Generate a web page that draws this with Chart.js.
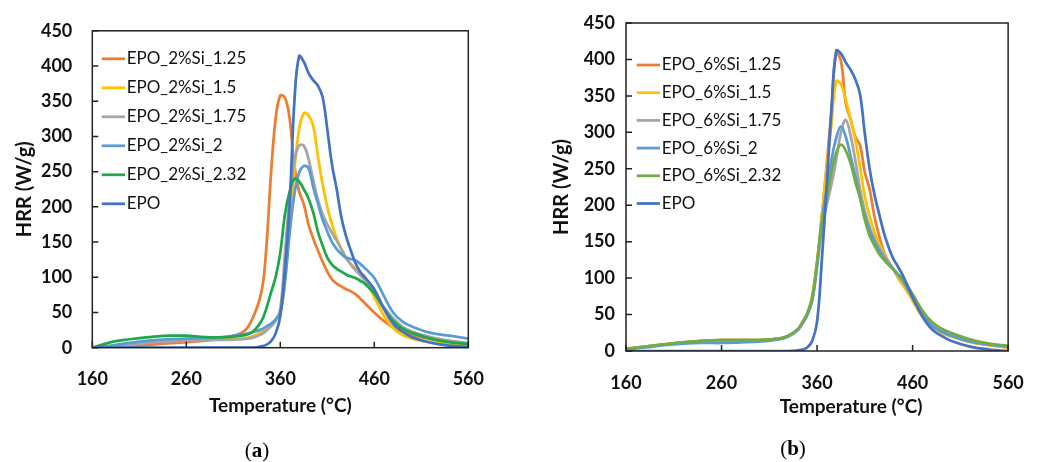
<!DOCTYPE html>
<html><head><meta charset="utf-8">
<script src="https://cdn.jsdelivr.net/npm/chart.js@4"></script>
<style>
html,body{margin:0;padding:0;background:#fff;width:1045px;height:462px;overflow:hidden;}
canvas{position:absolute;top:0;}
.cap{position:absolute;font-family:"Liberation Serif","DejaVu Serif",serif;font-size:21px;color:#000;transform:translate(-50%,-50%);white-space:nowrap;}
</style></head><body>
<canvas id="ca" width="522" height="462" style="left:0"></canvas>
<canvas id="cb" width="523" height="462" style="left:522px"></canvas>
<div class="cap" style="left:257px;top:450px">(<b>a</b>)</div>
<div class="cap" style="left:793px;top:448px">(<b>b</b>)</div>
<script>
// Temperature grid (°C)
const temps = [160,180,200,220,240,260,280,300,320,330,340,345,350,355,360,365,370,375,380,385,390,395,400,405,410,415,420,425,430,435,440,445,450,460,470,480,490,500,520,540,560];

// Panel (a): EPO_2%Si series, HRR (W/g)
const labelsA = ["EPO_2%Si_1.25","EPO_2%Si_1.5","EPO_2%Si_1.75","EPO_2%Si_2","EPO_2%Si_2.32","EPO"];
const a125 = [0,1,2,4,6,8,10,14,22,40,80,140,245,325,358,355,325,258,222,204,175,155,138,122,108,97,91,87,83,80,76,70,63,50,38,29,23,18,12,8,4];
const a150 = [0,2,5,8,10,11,12,12,13,16,22,27,32,40,50,95,180,252,310,333,330,315,272,232,200,175,155,140,128,119,112,103,95,72,46,28,18,13,8,5,3];
const a175 = [0,2,4,7,9,10,11,11,12,14,19,24,30,38,55,135,215,265,287,287,268,238,210,190,175,163,152,140,127,118,110,103,96,78,58,42,30,23,15,10,7];
const a200 = [0,3,7,10,12,13,14,15,19,22,26,30,34,40,50,94,163,218,248,258,255,228,205,182,165,150,140,133,128,126,124,119,113,99,74,50,37,30,21,17,13];
const a232 = [0,8,12,15,17,17,15,15,17,22,38,55,78,100,135,190,222,240,236,225,212,192,165,145,128,118,112,108,104,101,99,95,91,77,56,38,27,21,13,8,5];
const aEPO = [0,0,0,0,0,0,0,0,0,0,2,4,9,20,45,112,205,350,414,406,390,380,372,356,310,260,225,185,158,138,120,108,100,83,56,34,23,15,7,3,1];

// Panel (b): EPO_6%Si series, HRR (W/g)
const labelsB = ["EPO_6%Si_1.25","EPO_6%Si_1.5","EPO_6%Si_1.75","EPO_6%Si_2","EPO_6%Si_2.32","EPO"];
const b125 = [3,6,9,12,14,15,15,15,17,21,30,40,52,75,122,185,255,330,408,398,340,318,294,282,245,222,185,158,136,122,112,100,91,70,48,35,27,21,13,8,5];
const b150 = [3,6,9,12,14,15,15,15,17,21,30,40,52,75,122,185,252,310,370,366,345,318,290,252,212,185,163,147,134,122,111,101,91,69,47,33,25,20,12,8,5];
const b175 = [3,6,9,12,14,15,15,15,17,21,30,39,50,70,115,165,200,228,262,300,317,296,262,222,192,170,154,142,131,121,112,104,96,74,50,36,27,21,13,9,6];
const b200 = [3,5,8,10,11,11,12,13,16,20,29,38,50,70,118,178,222,262,292,308,294,268,240,210,185,165,150,138,128,120,112,104,96,73,50,35,27,21,13,9,6];
const b232 = [2,6,9,12,14,15,15,15,17,21,30,40,52,74,122,175,210,245,272,283,275,258,232,210,180,158,145,133,125,118,112,105,99,78,56,40,31,25,16,10,7];
const bEPO = [0,0,0,0,0,0,0,0,0,0,1,2,5,14,40,125,225,330,412,408,396,386,373,352,298,250,215,188,162,142,126,115,103,74,48,30,21,14,6,2,0];

// Axis tick values / titles
const xTicks = [160,260,360,460,560];
const yTicks = [0,50,100,150,200,250,300,350,400,450];
const xTitle = "Temperature (°C)";
const yTitle = "HRR (W/g)";

const colorsA = ["#ED7D31","#FFC000","#A5A5A5","#5B9BD5","#1FA84A","#4472C4"];
const colorsB = ["#ED7D31","#FFC000","#A5A5A5","#5B9BD5","#70AD47","#4472C4"];

const framePlugin = {
  id: 'frame',
  afterDraw(chart, args, o) {
    const {ctx, chartArea: ca, scales} = chart;
    ctx.save();
    ctx.strokeStyle = '#222';
    ctx.lineWidth = 1.5;
    ctx.strokeRect(ca.left, ca.top, ca.right - ca.left, ca.bottom - ca.top);
    ctx.beginPath();
    yTicks.forEach(v => { const y = scales.y.getPixelForValue(v); ctx.moveTo(ca.left, y); ctx.lineTo(ca.left + 6, y); });
    xTicks.forEach(v => { const x = scales.x.getPixelForValue(v); ctx.moveTo(x, ca.bottom); ctx.lineTo(x, ca.bottom - 6); });
    ctx.stroke();
    // legend
    const L = o.legend;
    ctx.font = '17px Lato';
    ctx.textBaseline = 'middle';
    ctx.textAlign = 'left';
    chart.data.datasets.forEach((ds, i) => {
      const y = ca.top + L.y0 + i * L.dy;
      ctx.strokeStyle = ds.borderColor;
      ctx.lineWidth = 2.75;
      ctx.beginPath(); ctx.moveTo(ca.left + L.x0, y); ctx.lineTo(ca.left + L.x1, y); ctx.stroke();
      ctx.fillStyle = '#111';
      ctx.fillText(ds.label, ca.left + L.tx, y);
    });
    // x title
    ctx.font = 'bold 19px Lato';
    ctx.textAlign = 'center';
    ctx.fillStyle = '#111';
    ctx.fillText(xTitle, (ca.left + ca.right) / 2 + o.xTitleDx, o.xTitleY);
    ctx.restore();
  }
};

function makeChart(id, labels, series, colors, cfg) {
  const datasets = series.map((vals, i) => ({
    label: labels[i],
    data: temps.map((t, k) => ({x: t, y: vals[k]})),
    borderColor: colors[i],
    backgroundColor: colors[i],
    borderWidth: 2.75,
    pointRadius: 0,
    fill: false,
    tension: 0.4,
    order: series.length - 1 - i
  }));
  return new Chart(document.getElementById(id), {
    type: 'line',
    data: {datasets},
    plugins: [framePlugin],
    options: {
      responsive: false,
      animation: false,
      events: [],
      layout: {padding: {left: 0, top: cfg.top, right: cfg.right, bottom: cfg.bottom}},
      plugins: {
        legend: {display: false},
        tooltip: {enabled: false},
        frame: {legend: cfg.legend, xTitleDx: cfg.xTitleDx, xTitleY: cfg.xTitleY}
      },
      scales: {
        x: {
          type: 'linear', min: 160, max: 560,
          afterBuildTicks: s => { s.ticks = xTicks.map(v => ({value: v})); },
          afterFit: s => { s.height = cfg.xHeight; },
          grid: {display: false, drawTicks: false},
          border: {display: false},
          ticks: {padding: cfg.xPad, color: '#111', font: {family: 'Lato', weight: 'bold', size: 18}}
        },
        y: {
          min: 0, max: 450,
          afterBuildTicks: s => { s.ticks = yTicks.map(v => ({value: v})); },
          afterFit: s => { s.width = cfg.yWidth; },
          grid: {display: false, drawTicks: false},
          border: {display: false},
          ticks: {padding: cfg.yPad, color: '#111', font: {family: 'Lato', weight: 'bold', size: 18}},
          title: {display: true, text: yTitle, color: '#111', font: {family: 'Lato', weight: 'bold', size: 20}, padding: {top: cfg.yTitlePad, bottom: 0}}
        }
      }
    }
  });
}

makeChart('ca', labelsA, [a125,a150,a175,a200,a232,aEPO], colorsA, {
  top: 23.3, right: 53.7, bottom: 40, xHeight: 74.3, xPad: 20.5, yWidth: 92.3, yPad: 20, yTitlePad: 13,
  legend: {x0: 9.4, x1: 32.7, tx: 34.4, y0: 28, dy: 29}, xTitleDx: 0, xTitleY: 406
});
makeChart('cb', labelsB, [b125,b150,b175,b200,b232,bEPO], colorsB, {
  top: 23, right: 19, bottom: 40, xHeight: 71, xPad: 21.2, yWidth: 104, yPad: 11, yTitlePad: 28,
  legend: {x0: 10.7, x1: 34, tx: 35.7, y0: 42, dy: 27.7}, xTitleDx: 34, xTitleY: 407
});
</script>
</body></html>
